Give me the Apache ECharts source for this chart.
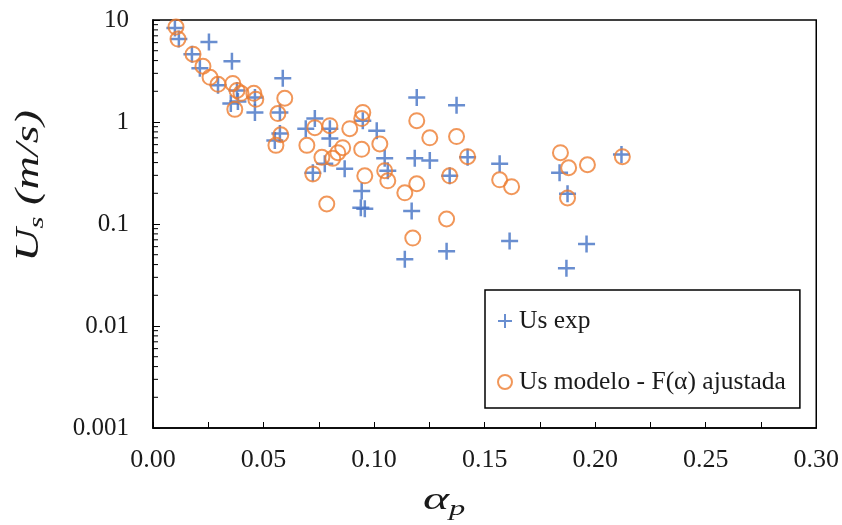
<!DOCTYPE html>
<html>
<head>
<meta charset="utf-8">
<script src="https://cdn.jsdelivr.net/npm/echarts@6/dist/echarts.min.js"></script>
<style>
html,body{margin:0;padding:0;background:#fff;}
#chart{width:842px;height:525px;}
</style>
</head>
<body>
<div id="chart"></div>
<script>
// Us exp (experimental) points
const expX = [0.0099,0.0117,0.0253,0.0176,0.0357,0.0212,0.0294,0.0380,0.0352,0.0384,0.0461,0.0461,0.0587,0.0574,0.0574,0.0551,0.0732,0.0691,0.0800,0.0800,0.0949,0.1012,0.1048,0.1062,0.0723,0.0777,0.0867,0.0944,0.0940,0.0958,0.1193,0.1373,0.1184,0.1252,0.1423,0.1342,0.1568,0.1170,0.1328,0.1139,0.1613,0.1839,0.1875,0.2119,0.1961,0.1870];
const expY = [8.34,6.50,6.07,4.62,3.95,3.37,2.29,2.04,1.52,1.59,1.74,1.24,2.68,1.24,0.77,0.66,1.08,0.86,0.86,0.69,1.03,0.82,0.44,0.333,0.318,0.39,0.348,0.211,0.144,0.141,1.74,1.46,0.44,0.42,0.45,0.297,0.39,0.134,0.054,0.045,0.068,0.318,0.198,0.48,0.0635,0.0369];
// Us modelo - F(alpha) ajustada
const modX = [0.0104,0.0113,0.0181,0.0226,0.0258,0.0294,0.0361,0.0380,0.0398,0.0370,0.0456,0.0465,0.0596,0.0565,0.0578,0.0556,0.0732,0.0800,0.0890,0.0949,0.0944,0.0696,0.0764,0.0813,0.0836,0.0858,0.0944,0.1026,0.0723,0.0958,0.1048,0.1062,0.0786,0.1193,0.1252,0.1373,0.1423,0.1342,0.1193,0.1139,0.1568,0.1622,0.1328,0.1175,0.1843,0.1880,0.1965,0.1875,0.2123];
const modY = [8.53,6.50,4.62,3.52,2.74,2.34,2.39,2.04,1.91,1.33,1.91,1.67,1.71,1.21,0.75,0.59,0.88,0.92,0.86,1.24,1.08,0.59,0.45,0.44,0.50,0.56,0.54,0.61,0.31,0.297,0.333,0.265,0.157,1.03,0.70,0.72,0.457,0.297,0.248,0.202,0.271,0.232,0.112,0.0728,0.50,0.356,0.381,0.180,0.457];
// axis ticks
const yMinorTicks = [];
[0.001,0.01,0.1,1].forEach(d => { for (let k = 2; k <= 9; k++) yMinorTicks.push(+(d*k).toPrecision(3)); });
const seriesNames = ['Us exp', 'Us modelo - F(\u03b1) ajustada'];

const FONT = 'Liberation Serif';
const TXT = '#1a1a1a';
const chart = echarts.init(document.getElementById('chart'), null, {renderer: 'canvas'});
const zip = (a, b) => a.map((v, i) => [v, b[i]]);

chart.setOption({
  animation: false,
  backgroundColor: '#fff',
  grid: {left: 153, right: 24, top: 20, bottom: 97, show: true, borderColor: '#000', borderWidth: 1.5, backgroundColor: 'transparent'},
  xAxis: {
    type: 'value', min: 0, max: 0.30, interval: 0.05,
    axisLine: {show: true, onZero: false, lineStyle: {color: '#000', width: 1.5}},
    axisTick: {show: true, inside: true, length: 6, lineStyle: {color: '#000', width: 1}},
    minorTick: {show: true, splitNumber: 2, length: 6, lineStyle: {color: '#000', width: 1}},
    splitLine: {show: false},
    axisLabel: {fontFamily: FONT, fontSize: 26, color: TXT, margin: 19, formatter: v => v.toFixed(2)}
  },
  yAxis: {
    type: 'log', logBase: 10, min: 0.001, max: 10,
    axisLine: {show: true, lineStyle: {color: '#000', width: 1.5}},
    axisTick: {show: true, inside: true, length: 7, lineStyle: {color: '#000', width: 1}},
    splitLine: {show: false},
    axisLabel: {fontFamily: FONT, fontSize: 25, color: TXT, margin: 24, formatter: v => String(+v.toPrecision(3))}
  },
  legend: {
    data: seriesNames,
    orient: 'vertical', left: 485, top: 290,
    padding: [18, 14, 13, 12],
    itemGap: 35, itemWidth: 14, itemHeight: 14,
    borderColor: '#000', borderWidth: 1.5, borderRadius: 0,
    textStyle: {fontFamily: FONT, fontSize: 25.5, color: TXT, padding: [0, 0, 0, 2]}
  },
  graphic: [
    {type: 'text', left: 13, top: 110, rotation: Math.PI / 2, scaleX: 1.4, z: 10,
     style: {text: '{a|U}{b|s}{a| (m/s)}', fill: TXT,
       rich: {a: {fontFamily: FONT, fontStyle: 'italic', fontSize: 33, fill: TXT},
              b: {fontFamily: FONT, fontStyle: 'italic', fontSize: 22, fill: TXT, padding: [15, 0, 0, 0]}}}},
    {type: 'text', left: 423, top: 485, scaleX: 1.55, z: 10,
     style: {text: '{a|\u03b1}{b|p}', fill: TXT,
       rich: {a: {fontFamily: FONT, fontStyle: 'italic', fontSize: 32, fill: TXT},
              b: {fontFamily: FONT, fontStyle: 'italic', fontSize: 21, fill: TXT, padding: [16, 0, 0, 0]}}}}
  ],
  series: [
    {
      name: seriesNames[0], type: 'scatter',
      symbol: 'path://M6,0 L6,12 M0,6 L12,6', symbolSize: 17,
      itemStyle: {color: 'rgba(0,0,0,0)', borderColor: '#4472C4', borderWidth: 2.5},
      data: zip(expX, expY)
    },
    {
      name: seriesNames[1], type: 'scatter',
      symbol: 'circle', symbolSize: 15,
      itemStyle: {color: 'rgba(0,0,0,0)', borderColor: '#ED7D31', borderWidth: 2},
      data: zip(modX, modY)
    },
    {
      name: 'yMinor', type: 'custom', silent: true, clip: false, z: 5,
      renderItem: (params, api) => {
        const p = api.coord([0, api.value(1)]);
        return {type: 'line', shape: {x1: p[0], y1: p[1], x2: p[0] + 5, y2: p[1]}, style: {stroke: '#000', lineWidth: 1}};
      },
      data: yMinorTicks.map(v => [0, v])
    }
  ]
});
</script>
</body>
</html>
